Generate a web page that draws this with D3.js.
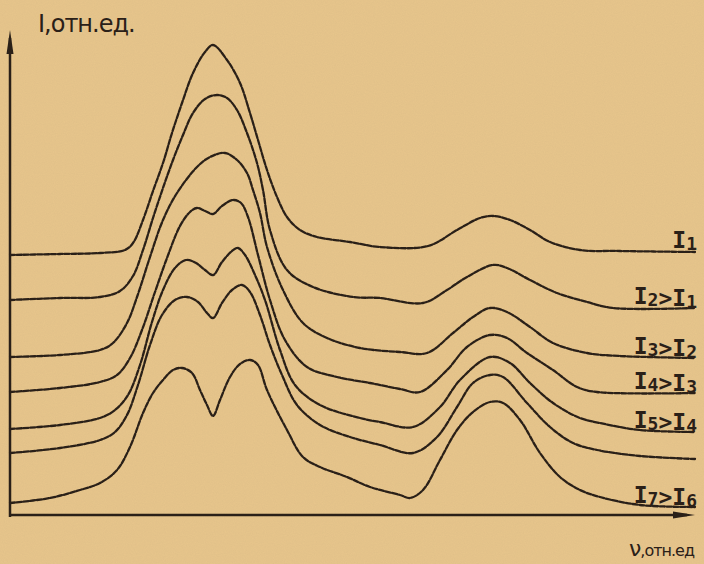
<!DOCTYPE html>
<html>
<head>
<meta charset="utf-8">
<script src="https://cdn.jsdelivr.net/npm/d3@7"></script>
<style>
  html, body { margin: 0; padding: 0; background: #e8c68c; }
  #chart { width: 704px; height: 564px; }
</style>
</head>
<body>
<div id="chart"></div>
<script>
document.addEventListener('DOMContentLoaded', function() {
    const width = 704;
    const height = 564;

    // spectra, [ν, I] in relative units
    const curve1 = [[0,52],[10,52.2],[18,52.4],[23,53],[24.6,54.4],[26.6,59],[28.6,64.8],[30.6,70.4],[32.4,76.4],[34.4,82.4],[36.6,88.4],[39,92.6],[40.6,94],[43.4,91],[46,86.4],[48,80.4],[49.6,75],[51.4,69],[53.4,63.6],[55.4,59.6],[58,57],[61.4,55.6],[68,54.6],[74,53.6],[83.6,53.8],[89.4,57],[94,59.4],[96.6,59.8],[100,59],[104,57],[108,54.6],[114,53],[122,52.8],[137,52.6]];
    const curve2 = [[0,43],[10,43.4],[18,43.6],[22,44.8],[24.6,47.8],[26.6,53],[28.6,59.4],[30.6,65.4],[32.6,71],[34.6,76],[36.6,80.4],[39,83.2],[41.4,84],[43.4,83.4],[45.4,81],[47.4,76.4],[49.4,70.4],[50.6,65],[52,57],[55.4,49],[60.6,45.6],[68.6,43.6],[74,43.4],[82.6,42.4],[87.4,45],[91.4,47.6],[96.6,50],[99.4,49.4],[104,47],[109.4,44.4],[115.4,42.6],[120.6,41.4],[137,41.4]];
    const curve3 = [[0,31.6],[10,32],[18,33],[20.6,34.4],[23.4,38.4],[25.4,43.6],[28,51.6],[30.6,59],[33.4,64.4],[37.4,69.6],[40,71.6],[43,72.4],[45.4,71],[47.4,68.4],[48.6,65],[50,60.4],[51.4,53.6],[54.6,45],[58.6,38.4],[63.4,35.4],[70,33.4],[78,32.6],[83.4,32.4],[88.6,36.4],[92.6,39.6],[96,41.4],[99.4,40.6],[104,37.6],[108.6,34.4],[115.4,32.4],[122,31.8],[137,31.4]];
    const curve4 = [[0,24.6],[10,25.4],[18,26.6],[21.4,28],[24,31.4],[26.4,37],[29,44.6],[31.4,51.4],[34,57.8],[36,60.6],[37.4,61.4],[39,60.8],[40.6,60.2],[42.4,61.8],[44.6,63],[46.2,62.4],[47.6,59.6],[49.6,52],[52,43],[55,35],[59.4,29.6],[65.4,27.6],[72,26.4],[78,25.2],[82,24.6],[87.4,29],[91.4,33.6],[96,36],[99.4,35.4],[103.4,32.4],[108.6,29],[113.4,25.6],[117.4,24.6],[137,24.4]];
    const curve5 = [[0,17.2],[10,18],[18,19.4],[21,21],[23.6,24],[26,30],[28.4,38.6],[30.6,45],[33,49.4],[35.2,51],[37.2,50.4],[39,49],[40.6,48],[42.4,50.6],[44.4,52.8],[45.6,53.4],[47,52],[49,48],[51,43],[54,33],[57,26],[62,22],[70,19.4],[74,18.6],[80.6,17.6],[86,21.6],[90,27],[96,31.6],[100,30.4],[104,26.4],[108.6,22.4],[114,19.4],[118,18.4],[126,17],[137,16.6]];
    const curve6 = [[0,12.4],[10,13.4],[18,15],[21,16.6],[23.4,20],[25.6,26],[28,34],[30.4,40],[33,43],[35.4,43.6],[37.6,42.6],[39.4,40.4],[40.6,39.4],[42.4,42.4],[44.4,45],[46.4,46],[48,44.6],[50,40],[52,34],[54.4,28],[57.4,22],[62,18],[68,15.6],[74,14],[80.6,12.4],[85.4,15.6],[89.4,21.6],[92.6,26.4],[96,28],[98.6,27.6],[103.4,22.4],[108,17.6],[112.6,14.4],[117.4,13],[126,11.8],[137,11.2]];
    const curve7 = [[0,2.4],[8,3.4],[14,5],[18,6.4],[21.4,9],[24,13.6],[26.6,20.4],[28.6,24.4],[30.6,27],[32.6,29],[34.4,29.4],[36.4,28.4],[38,25],[39.4,22],[40.6,19.8],[42,23],[44,27.6],[46,30.2],[48,31],[49.6,30],[51.4,25],[55.4,17],[58.6,11.6],[62,9.6],[67.4,7.6],[72,5.6],[78,4],[80,3.4],[82.6,5],[86,11],[89.4,17],[92.6,20.6],[96,22.6],[98.6,22.4],[102,19],[106,12.4],[110,7.6],[114,5],[118,3.6],[126,2],[137,1.6]];

    const curves = [curve1, curve2, curve3, curve4, curve5, curve6, curve7];
    // "_n" = subscript; the sixth curve has no label in the original
    const labels = ["I_1", "I_2>I_1", "I_3>I_2", "I_4>I_3", "I_5>I_4", "", "I_7>I_6"];

    const ink = "#2a2018";

    const svg = d3.select("#chart").append("svg")
                  .attr("width", width)
                  .attr("height", height);

    // paper texture
    const defs = svg.append("defs");
    const grain = defs.append("filter").attr("id", "grain");
    grain.append("feTurbulence")
        .attr("type", "fractalNoise")
        .attr("baseFrequency", 0.9)
        .attr("numOctaves", 2)
        .attr("seed", 3);
    grain.append("feColorMatrix")
        .attr("values", "0 0 0 0 0.45  0 0 0 0 0.33  0 0 0 0 0.18  0 0 0 0.28 0");

    svg.append("rect")
        .attr("width", width)
        .attr("height", height)
        .attr("fill", "#e8c68c");
    svg.append("rect")
        .attr("width", width)
        .attr("height", height)
        .attr("filter", "url(#grain)")
        .attr("opacity", 0.5);

    const x = d3.scaleLinear().domain([0, 137]).range([10, 695]);
    const y = d3.scaleLinear().domain([0, 97]).range([515, 30]);

    // axes with arrow heads
    svg.append("line")
        .attr("x1", x(0)).attr("y1", y(0) + 2)
        .attr("x2", x(0)).attr("y2", y(97) + 8)
        .attr("stroke", ink).attr("stroke-width", 2.5);
    svg.append("path")
        .attr("d", `M${x(0)},${y(97)} L${x(0) - 3.5},${y(97) + 24} L${x(0) + 3.5},${y(97) + 24} Z`)
        .attr("fill", ink);

    svg.append("line")
        .attr("x1", x(0) - 1).attr("y1", y(0))
        .attr("x2", x(137) - 8).attr("y2", y(0))
        .attr("stroke", ink).attr("stroke-width", 2.5);
    svg.append("path")
        .attr("d", `M${x(137)},${y(0)} L${x(137) - 22},${y(0) - 3.5} L${x(137) - 22},${y(0) + 3.5} Z`)
        .attr("fill", ink);

    // spectra
    const line = d3.line()
        .x(d => x(d[0]))
        .y(d => y(d[1]))
        .curve(d3.curveCatmullRom.alpha(0.5));

    svg.selectAll(".spectrum")
        .data(curves)
        .enter().append("path")
        .attr("class", "spectrum")
        .attr("d", line)
        .attr("fill", "none")
        .attr("stroke", ink)
        .attr("stroke-width", 2.3)
        .attr("stroke-dasharray", "5,1.8")
        .attr("stroke-linecap", "round");

    // curve labels sitting on the flat right-hand tails
    curves.forEach((c, i) => {
        if (!labels[i]) return;
        const last = c[c.length - 1];
        const t = svg.append("text")
            .attr("x", x(last[0]) + 2)
            .attr("y", y(last[1]) - 4)
            .attr("text-anchor", "end")
            .attr("font-family", "DejaVu Sans Mono")
            .attr("font-weight", "bold")
            .attr("font-size", 23)
            .attr("fill", ink);
        labels[i].split(/(_\d)/).filter(s => s).forEach(part => {
            if (part[0] === "_") {
                t.append("tspan").attr("font-size", 18).attr("dy", 2).text(part.slice(1));
                t.append("tspan").attr("dy", -2).text("");
            } else {
                t.append("tspan").text(part);
            }
        });
    });

    // axis titles
    svg.append("text")
        .attr("x", 38).attr("y", 32)
        .attr("font-family", "DejaVu Sans")
        .attr("font-size", 24)
        .attr("letter-spacing", -1)
        .attr("fill", ink)
        .text("I,отн.ед.");

    const xt = svg.append("text")
        .attr("x", 629).attr("y", 556)
        .attr("font-family", "DejaVu Sans")
        .attr("letter-spacing", -1)
        .attr("fill", ink);
    xt.append("tspan").attr("font-size", 22).text("ν");
    xt.append("tspan").attr("font-size", 16).text(",отн.ед");
});
</script>
</body>
</html>
